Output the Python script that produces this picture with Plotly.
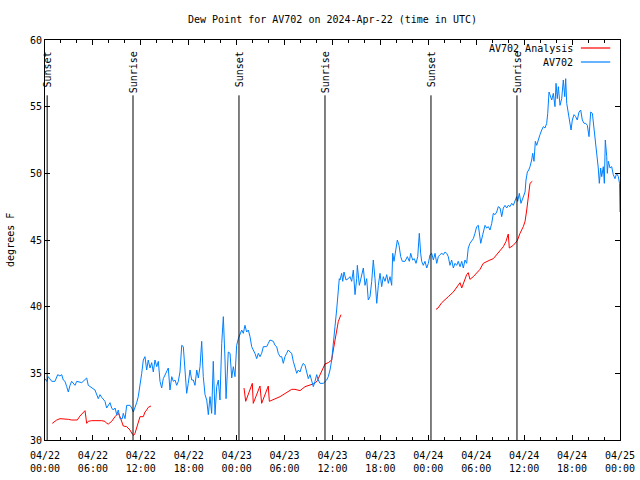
import pandas as pd
import plotly.graph_objects as go

# ---------------- data ----------------
start = pd.Timestamp("2024-04-22 00:00")

# AV702 observed dew point: hours since 2024-04-22 00:00 UTC, degrees F
obs_hours = [0.00, 0.21, 0.41, 0.84, 1.25, 1.59, 1.88, 2.09, 2.29, 2.50, 2.72, 2.92, 3.13, 3.34, 3.76, 3.97,
             4.60, 5.01, 5.22, 5.42, 5.85, 6.26, 6.67, 6.89, 7.10, 7.51, 7.72, 8.14, 8.35, 8.55, 8.77, 8.98,
             9.18, 9.39, 9.68, 9.80, 10.02, 10.23, 10.64, 10.86, 11.06, 11.27, 11.48, 11.68, 11.90, 12.11,
             12.31, 12.52, 12.73, 12.93, 13.15, 13.36, 13.56, 13.77, 13.99, 14.19, 14.40, 14.61, 14.81,
             15.24, 15.44, 15.65, 15.87, 16.07, 16.28, 16.49, 16.69, 16.90, 17.12, 17.32, 17.53, 17.74,
             17.94, 18.16, 18.37, 18.57, 18.78, 19.00, 19.20, 19.41, 19.62, 19.82, 20.04, 20.25, 20.45,
             20.66, 20.87, 21.07, 21.29, 21.50, 21.70, 21.91, 22.13, 22.33, 22.54, 22.67, 22.95, 23.17,
             23.38, 23.58, 23.79, 24.00, 24.21, 24.42, 24.63, 24.83, 25.04, 25.25, 25.46, 25.67, 25.88,
             26.08, 26.29, 26.51, 26.71, 26.92, 27.13, 27.34, 27.76, 27.96, 28.17, 28.59, 28.80, 29.01,
             29.21, 29.43, 29.64, 29.84, 30.05, 30.26, 30.46, 30.68, 30.89, 31.09, 31.30, 31.52, 31.72,
             31.93, 32.14, 32.34, 32.56, 32.77, 32.97, 33.18, 33.40, 33.60, 33.81, 34.02, 34.22, 34.43,
             34.85, 35.06, 35.27, 35.47, 35.69, 35.90, 36.10, 36.31, 36.52, 36.73, 36.85, 36.94, 37.15,
             37.28, 37.44, 37.69, 37.98, 38.19, 38.40, 38.61, 38.82, 39.03, 39.11, 39.36, 39.66, 39.86,
             40.07, 40.28, 40.48, 40.70, 40.91, 41.11, 41.32, 41.54, 41.74, 41.95, 42.16, 42.36, 42.57,
             42.79, 42.99, 43.20, 43.41, 43.54, 43.70, 43.91, 44.12, 44.33, 44.54, 44.74, 45.08, 45.37,
             45.62, 45.79, 46.04, 46.24, 46.46, 46.67, 46.87, 47.04, 47.17, 47.37, 47.58, 47.80, 48.00,
             48.21, 48.42, 48.63, 48.84, 49.05, 49.25, 49.46, 49.68, 49.88, 50.09, 50.30, 50.50, 50.71,
             50.92, 51.13, 51.34, 51.55, 51.75, 51.97, 52.18, 52.38, 52.59, 52.80, 53.00, 53.21, 53.43,
             53.63, 53.84, 54.05, 54.26, 54.38, 54.56, 54.81, 55.10, 55.31, 55.51, 55.72, 55.94, 56.14,
             56.35, 56.56, 56.76, 56.98, 57.19, 57.39, 57.60, 57.81, 58.01, 58.23, 58.44, 58.64, 58.85,
             59.06, 59.19, 59.39, 59.60, 59.82, 59.98, 60.11, 60.23, 60.40, 60.57, 60.73, 60.94, 61.07,
             61.23, 61.40, 61.57, 61.77, 61.98, 62.20, 62.40, 62.61, 62.82, 62.95, 63.11, 63.23, 63.45,
             63.65, 63.86, 63.99, 64.15, 64.28, 64.49, 64.70, 64.90, 65.08, 65.20, 65.33, 65.53, 65.74,
             65.87, 66.03, 66.24, 66.45, 66.65, 66.87, 67.08, 67.28, 67.50, 67.71, 67.91, 68.12, 68.33,
             68.54, 68.75, 68.96, 69.16, 69.28, 69.41, 69.58, 69.71, 69.91, 70.04, 70.16, 70.34, 70.41,
             70.54, 70.75, 70.96, 71.16, 71.37, 71.58, 71.79, 71.94, 72.00]
obs_dewpt = [34.6, 34.4, 34.75, 34.4, 34.4, 34.9, 34.8, 34.9, 34.5, 34.4, 34.0, 33.6, 34.1, 34.4, 34.1, 34.4,
             34.3, 34.5, 34.65, 34.1, 33.9, 33.75, 33.1, 33.4, 33.2, 32.9, 32.4, 32.8, 32.4, 32.25, 32.4, 31.9,
             32.25, 31.6, 31.6, 32.0, 31.6, 32.6, 32.6, 32.4, 32.1, 32.4, 32.8, 33.25, 34.0, 35.0,
             36.0, 36.25, 35.25, 36.0, 35.4, 35.8, 35.1, 36.0, 35.5, 35.9, 34.4, 33.9, 34.6,
             35.1, 35.4, 33.75, 34.75, 34.4, 34.5, 34.1, 34.4, 35.1, 37.1, 37.0, 35.5, 33.5,
             34.25, 35.25, 34.5, 34.5, 34.1, 35.25, 34.65, 35.5, 37.4, 34.75, 33.4, 33.0, 31.9,
             33.25, 32.0, 35.9, 31.9, 34.0, 34.5, 33.0, 37.25, 39.25, 36.0, 33.1, 36.6, 36.5,
             34.65, 35.5, 34.75, 37.1, 37.6, 38.0, 38.25, 38.0, 38.6, 38.1, 38.25, 37.75, 37.0,
             36.75, 36.5, 36.1, 36.5, 36.25, 36.5, 37.0, 37.0, 37.25, 37.5, 37.4, 37.1, 37.0,
             36.5, 36.25, 36.25, 35.75, 36.25, 36.5, 36.75, 36.6, 36.5, 35.9, 35.5, 35.0, 35.25,
             35.1, 35.5, 35.75, 35.6, 35.1, 34.6, 34.9, 34.5, 34.0, 34.4, 34.9, 34.5, 34.25,
             34.25, 34.4, 34.5, 34.75, 35.25, 36.0, 37.0, 38.5, 39.75, 41.1, 42.1, 42.0, 42.5,
             41.9, 42.6, 42.0, 42.1, 42.25, 41.9, 42.75, 40.9, 42.1, 43.1, 41.6, 42.5, 42.9,
             41.6, 42.1, 40.5, 40.75, 41.9, 43.5, 42.1, 40.25, 41.6, 42.5, 41.5, 42.25, 41.9,
             42.4, 41.75, 42.25, 41.6, 44.0, 43.4, 44.1, 45.0, 44.6, 43.75, 43.4, 43.4, 43.75,
             43.4, 44.0, 43.5, 43.6, 43.25, 43.75, 45.5, 44.0, 43.4, 43.1, 43.4, 42.9, 43.25,
             43.9, 44.0, 43.5, 44.0, 43.25, 43.75, 43.9, 44.0, 43.9, 44.1, 44.0, 43.75, 43.1,
             43.5, 42.9, 43.25, 43.1, 43.4, 43.0, 43.4, 42.9, 43.5, 43.25, 44.4, 44.75, 44.9,
             45.1, 45.5, 46.0, 46.1, 45.5, 44.75, 45.4, 46.1, 45.9, 46.0, 45.75, 46.25, 47.0,
             46.9, 47.1, 47.5, 47.4, 46.75, 47.4, 47.6, 47.4, 47.6, 47.5, 47.75, 47.6, 47.9,
             48.25, 47.9, 48.5, 47.75, 48.1, 48.5, 48.6, 49.5, 50.1, 50.25, 50.5, 51.0, 51.5,
             50.9, 52.4, 52.1, 52.6, 52.9, 53.25, 53.5, 53.4, 53.75, 54.5, 56.1, 55.9, 55.5,
             56.0, 55.0, 56.75, 55.6, 56.5, 55.1, 55.6, 57.0, 55.75, 57.1, 55.25, 54.5, 53.9,
             53.25, 54.0, 54.4, 54.25, 54.0, 54.6, 54.75, 54.0, 53.75, 53.75, 53.6, 52.75, 54.6,
             54.5, 53.4, 52.0, 51.1, 50.4, 49.25, 50.4, 49.75, 50.5, 49.25, 52.5, 51.25, 50.0,
             50.9, 50.4, 50.5, 49.9, 49.6, 50.0, 49.75, 49.25, 47.1]

# AV702 Analysis: three separate runs
ana1_hours = [0.91, 1.25, 1.47, 1.88, 2.50, 2.92, 3.34, 4.04, 4.38, 4.80, 5.01, 5.22, 5.42, 5.85, 6.26,
              6.67, 7.10, 7.51, 7.72, 7.93, 8.35, 8.77, 9.18, 9.39, 9.60, 9.80, 10.23, 10.64, 10.93,
              11.11, 11.27, 11.48, 11.68, 11.90, 12.31, 12.52, 12.73, 12.93, 13.27]
ana1_dewpt = [31.25, 31.4, 31.5, 31.6, 31.6, 31.55, 31.5, 31.5, 31.8, 32.1, 32.2, 31.25, 31.4, 31.45, 31.45,
              31.5, 31.45, 31.4, 31.25, 31.2, 31.4, 31.75, 32.0, 31.75, 31.4, 31.05, 31.0, 30.75, 30.45,
              30.35, 30.5, 30.9, 31.25, 31.75, 31.75, 32.1, 32.25, 32.45, 32.55]
ana2_hours = [24.92, 25.13, 25.96, 26.08, 26.92, 27.13, 27.96, 28.09, 29.43, 30.89, 31.30, 31.93, 32.56,
              33.18, 33.81, 34.10, 34.65, 35.06, 35.47, 35.90, 36.10, 36.52, 36.73, 37.06]
ana2_dewpt = [33.9, 32.9, 34.25, 32.75, 34.05, 32.75, 34.05, 32.9, 33.25, 33.8, 33.8, 33.7, 34.0,
              34.1, 34.25, 34.45, 35.1, 35.7, 35.8, 36.0, 36.75, 38.0, 38.9, 39.4]
ana3_hours = [48.96, 49.21, 49.68, 50.09, 50.50, 51.13, 51.55, 51.97, 52.18, 52.38, 52.80, 53.00, 53.21,
              53.63, 54.05, 54.47, 54.88, 55.31, 55.72, 56.14, 56.56, 56.98, 57.39, 57.73, 58.01, 58.14,
              58.64, 59.14, 59.48, 59.89, 60.11, 60.32, 60.52, 60.73, 61.02]
ana3_dewpt = [39.8, 39.9, 40.3, 40.5, 40.75, 41.1, 41.5, 41.8, 41.4, 41.75, 42.4, 42.55, 42.05,
              42.25, 42.5, 42.8, 43.25, 43.4, 43.5, 43.6, 43.9, 44.25, 44.5, 44.9, 45.45, 44.4,
              44.6, 44.95, 45.5, 46.0, 46.4, 47.25, 48.5, 49.25, 49.4]

# Sun events (hours since start)
event_hours = [0.27, 11.02, 24.29, 35.06, 48.33, 59.10]
event_labels = ["Sunset", "Sunrise", "Sunset", "Sunrise", "Sunset", "Sunrise"]

# axis ticks
xtick_hours = list(range(0, 73, 6))
xtick_labels = ["04/22<br>00:00", "04/22<br>06:00", "04/22<br>12:00", "04/22<br>18:00",
                "04/23<br>00:00", "04/23<br>06:00", "04/23<br>12:00", "04/23<br>18:00",
                "04/24<br>00:00", "04/24<br>06:00", "04/24<br>12:00", "04/24<br>18:00",
                "04/25<br>00:00"]
ytick_vals = [30, 35, 40, 45, 50, 55, 60]

series_names = ["AV702 Analysis", "AV702"]
series_colors = ["#ff0000", "#0080ff"]

# ---------------- build ----------------
def to_time(hours):
    return [None if h is None else start + pd.Timedelta(hours=h) for h in hours]

ana_hours = ana1_hours + [None] + ana2_hours + [None] + ana3_hours
ana_dewpt = ana1_dewpt + [None] + ana2_dewpt + [None] + ana3_dewpt

FONT = "DejaVu Sans Mono"
fig = go.Figure()
fig.add_trace(go.Scatter(x=to_time(ana_hours), y=ana_dewpt, mode="lines", name=series_names[0],
                         line=dict(color=series_colors[0], width=1), connectgaps=False))
fig.add_trace(go.Scatter(x=to_time(obs_hours), y=obs_dewpt, mode="lines", name=series_names[1],
                         line=dict(color=series_colors[1], width=1)))

ymin, ymax = 30, 60
for h, lab in zip(event_hours, event_labels):
    t = start + pd.Timedelta(hours=h)
    fig.add_shape(type="line", xref="x", yref="y", x0=t, x1=t, y0=ymin, y1=55.85,
                  line=dict(color="black", width=1))
    fig.add_annotation(x=t, y=59.3, xref="x", yref="y", text=lab, textangle=-90,
                       showarrow=False, xanchor="center", yanchor="top",
                       font=dict(family=FONT, size=10, color="black"))

# manual legend (text left of line sample, as in reference)
leg_y = [0.98, 0.945]
for name, col, ly in zip(series_names, series_colors, leg_y):
    fig.add_annotation(x=0.9217, y=ly, xref="paper", yref="paper", text=name, showarrow=False,
                       xanchor="right", yanchor="middle", font=dict(family=FONT, size=10, color="black"))
    fig.add_shape(type="line", xref="paper", yref="paper", x0=0.932, x1=0.983, y0=ly, y1=ly,
                  line=dict(color=col, width=1.2))

# y axis title as rotated text at left
fig.add_annotation(x=-0.061, y=0.5, xref="paper", yref="paper", text="degrees F", textangle=-90,
                   showarrow=False, xanchor="center", yanchor="middle",
                   font=dict(family=FONT, size=10, color="black"))

fig.update_layout(
    width=640, height=480,
    margin=dict(l=45, r=20, t=40, b=40, autoexpand=False),
    paper_bgcolor="white", plot_bgcolor="white",
    showlegend=False,
    font=dict(family=FONT, size=10, color="black"),
    title=dict(text="Dew Point for AV702 on 2024-Apr-22 (time in UTC)", x=0.5, xanchor="center",
               xref="paper", y=0.96, yanchor="middle", font=dict(family=FONT, size=10, color="black")),
)
fig.update_xaxes(
    range=[start, start + pd.Timedelta(hours=72)], automargin=False,
    tickmode="array", tickvals=to_time(xtick_hours), ticktext=xtick_labels,
    ticks="inside", ticklen=5, tickcolor="black",
    minor=dict(ticks="inside", ticklen=3, dtick=2 * 3600 * 1000, tick0=start, tickcolor="black"),
    showline=True, linecolor="black", linewidth=1, mirror="ticks",
    showgrid=False, zeroline=False, ticklabelstandoff=6,
    tickfont=dict(family=FONT, size=10, color="black"),
)
fig.update_yaxes(
    range=[ymin, ymax], tickmode="array", tickvals=ytick_vals, automargin=False,
    ticks="inside", ticklen=5, tickcolor="black",
    showline=True, linecolor="black", linewidth=1, mirror="ticks",
    showgrid=False, zeroline=False,
    tickfont=dict(family=FONT, size=10, color="black"),
)

fig.write_html("out.html", config={"displayModeBar": False},
               post_script="document.body.style.margin='0px';document.body.style.padding='0px';")
